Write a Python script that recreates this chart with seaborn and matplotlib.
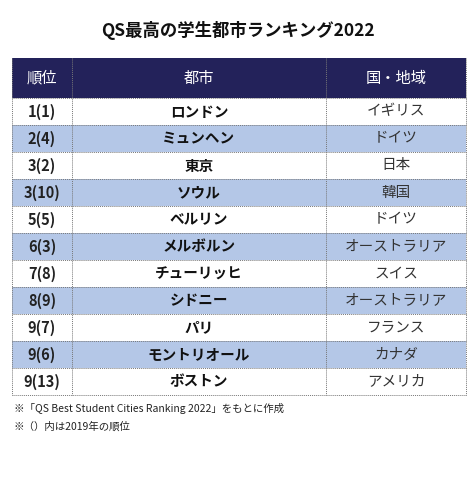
import matplotlib
matplotlib.use("Agg")
import matplotlib.pyplot as plt
import seaborn as sns
from matplotlib.patches import Rectangle

sns.set_theme(style="white")
plt.rcParams['font.family'] = ['Noto Sans CJK JP', 'DejaVu Sans']

title = "QS最高の学生都市ランキング2022"
headers = ["順位", "都市", "国・地域"]
ranks = ["1(1)", "2(4)", "3(2)", "3(10)", "5(5)", "6(3)", "7(8)", "8(9)", "9(7)", "9(6)", "9(13)"]
cities = ["ロンドン", "ミュンヘン", "東京", "ソウル", "ベルリン", "メルボルン", "チューリッヒ",
          "シドニー", "パリ", "モントリオール", "ボストン"]
countries = ["イギリス", "ドイツ", "日本", "韓国", "ドイツ", "オーストラリア", "スイス",
             "オーストラリア", "フランス", "カナダ", "アメリカ"]
notes = ["※「QS Best Student Cities Ranking 2022」をもとに作成", "※（）内は2019年の順位"]

fig = plt.figure(figsize=(4.77, 4.80), dpi=100)
ax = fig.add_axes([0, 0, 1, 1])
ax.set_xlim(0, 477); ax.set_ylim(480, 0); ax.axis("off")

colx = [12, 72, 326, 466]
top, hh, rh = 58, 40, 27
navy, blue = "#23225a", "#b4c7e7"

ax.text(238, 31, title, ha="center", va="center", fontsize=12.5, fontweight="bold", color="#111")
ax.add_patch(Rectangle((colx[0], top), colx[-1]-colx[0], hh, color=navy, lw=0))
for i, h in enumerate(headers):
    ax.text((colx[i]+colx[i+1])/2, top+hh/2, h, ha="center", va="center", color="white", fontsize=11)
y0 = top + hh
for r in range(len(ranks)):
    y = y0 + r*rh
    if r % 2 == 1:
        ax.add_patch(Rectangle((colx[0], y), colx[-1]-colx[0], rh, color=blue, lw=0))
    cy = y + rh/2
    ax.text((colx[0]+colx[1])/2, cy, ranks[r], ha="center", va="center", fontsize=10.5, fontweight="bold", color="#222")
    ax.text((colx[1]+colx[2])/2, cy, cities[r], ha="center", va="center", fontsize=10.5, fontweight="bold", color="#111")
    ax.text((colx[2]+colx[3])/2, cy, countries[r], ha="center", va="center", fontsize=10.5, color="#333")
bottom = y0 + len(ranks)*rh
for r in range(len(ranks)+1):
    y = y0 + r*rh
    ax.plot([colx[0], colx[-1]], [y, y], color="#777", lw=0.7, ls=(0, (1, 1)))
for x in colx:
    ax.plot([x, x], [top, bottom], color="#777", lw=0.7, ls=(0, (1, 1)))
for i, n in enumerate(notes):
    ax.text(14, bottom + 14 + i*18, n, ha="left", va="center", fontsize=7.5, color="#222")

fig.savefig("out.png", dpi=100, facecolor="white")
